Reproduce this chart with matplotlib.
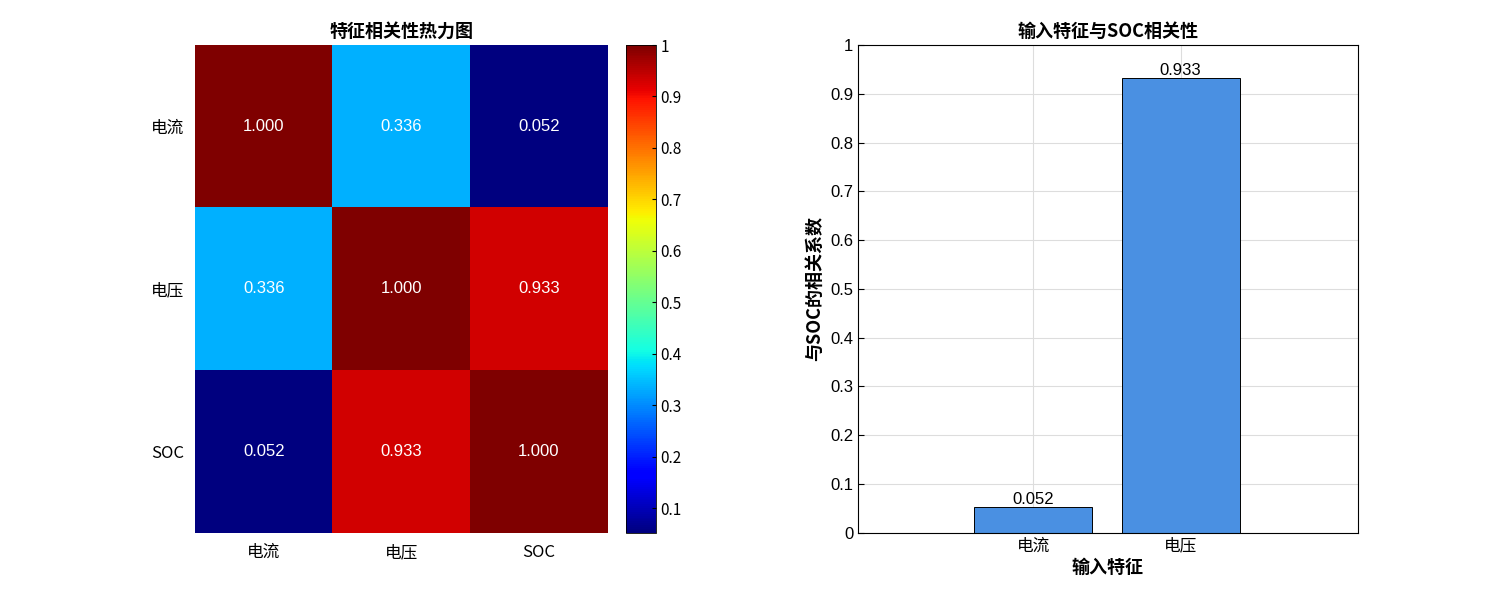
import matplotlib
matplotlib.use("Agg")
import matplotlib.pyplot as plt
import numpy as np

plt.rcParams['font.family'] = ['Noto Sans CJK SC', 'DejaVu Sans']

features = ['电流', '电压', 'SOC']
corr = np.array([[1.000, 0.336, 0.052],
                 [0.336, 1.000, 0.933],
                 [0.052, 0.933, 1.000]])
bar_labels = ['电流', '电压']
bar_values = [0.052, 0.933]

fig = plt.figure(figsize=(15, 6), dpi=100)

# heatmap
ax1 = fig.add_axes([0.130, 0.112, 0.275, 0.813])
im = ax1.imshow(corr, cmap='jet', vmin=corr.min(), vmax=1, aspect='auto')
for i in range(3):
    for j in range(3):
        ax1.text(j, i, f'{corr[i, j]:.3f}', ha='center', va='center',
                 color='white', fontsize=12, family='Liberation Sans')
ax1.set_xticks(range(3))
ax1.set_xticklabels(features, fontsize=12)
ax1.set_yticks(range(3))
ax1.set_yticklabels(features, fontsize=12)
ax1.tick_params(length=0, pad=8)
for s in ax1.spines.values():
    s.set_visible(False)
ax1.set_title('特征相关性热力图', fontsize=13, fontweight='bold')

cax = fig.add_axes([0.417, 0.112, 0.020, 0.813])
cb = fig.colorbar(im, cax=cax)
cb.set_ticks(np.arange(0.1, 1.01, 0.1))
cb.set_ticklabels(['0.1', '0.2', '0.3', '0.4', '0.5', '0.6', '0.7', '0.8', '0.9', '1'])
cb.ax.tick_params(labelsize=11, direction='in', length=3)
cb.outline.set_linewidth(0.6)

# bar chart
ax2 = fig.add_axes([0.572, 0.112, 0.333, 0.813])
x = np.arange(1, len(bar_values) + 1)
bars = ax2.bar(x, bar_values, width=0.8, color='#4a90e2', edgecolor='black', linewidth=0.7)
for xi, v in zip(x, bar_values):
    ax2.text(xi, v, f'{v:.3f}', ha='center', va='bottom', fontsize=12,
             family='Liberation Sans')
ax2.set_xlim(-0.19, 3.2)
ax2.set_ylim(0, 1)
ax2.set_yticks(np.arange(0, 1.01, 0.1))
ax2.set_yticklabels(['0', '0.1', '0.2', '0.3', '0.4', '0.5', '0.6', '0.7', '0.8', '0.9', '1'],
                    family='Liberation Sans')
ax2.set_xticks(x)
ax2.set_xticklabels(bar_labels, fontsize=12)
ax2.tick_params(labelsize=12, direction='in', length=4)
ax2.grid(True, color='#dddddd', linewidth=0.8)
ax2.set_axisbelow(True)
ax2.set_xlabel('输入特征', fontsize=13, fontweight='bold', labelpad=2)
ax2.set_ylabel('与SOC的相关系数', fontsize=13, fontweight='bold')
ax2.set_title('输入特征与SOC相关性', fontsize=13, fontweight='bold')

fig.savefig('out.png', dpi=100)
